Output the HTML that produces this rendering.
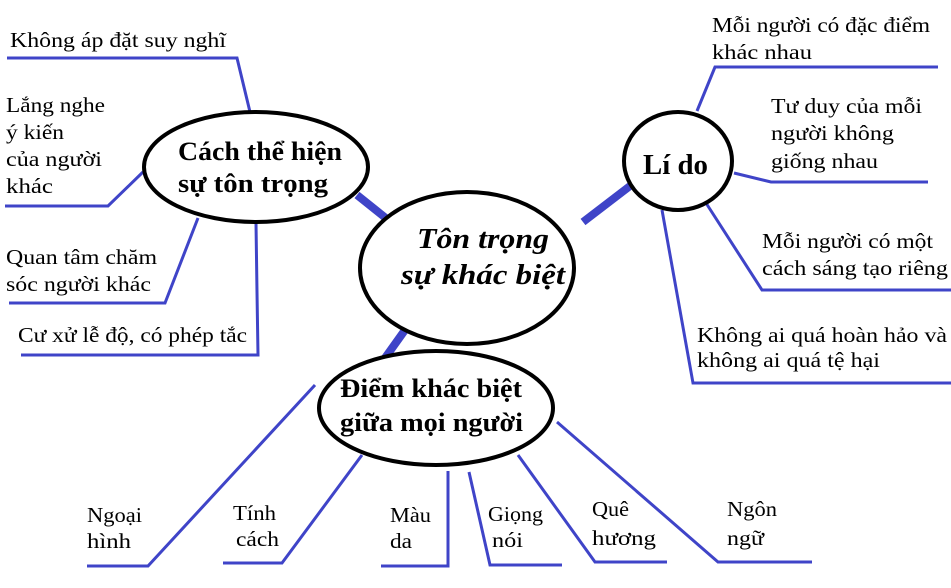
<!DOCTYPE html>
<html><head><meta charset="utf-8"><style>html,body{margin:0;padding:0;background:#fff}svg{display:block}</style></head>
<body>
<svg width="951" height="588" viewBox="0 0 951 588" xmlns="http://www.w3.org/2000/svg" font-family="'Liberation Serif', serif">
<g fill="none" stroke="#3f44c8" stroke-width="3">
<polyline points="7,58 237,58 250,112"/>
<polyline points="5,206 108,206 143,172"/>
<polyline points="9,303 165,303 198,218"/>
<polyline points="256,223 257,292 258,355 21,355"/>
<polyline points="697,111 715,67 938,67"/>
<polyline points="734,173 771,182 928,182"/>
<polyline points="706,203 762,290 951,290"/>
<polyline points="662,210 693,383 951,383"/>
<polyline points="315,385 148,566 87,566"/>
<polyline points="362,455 282,563 223,563"/>
<polyline points="448,471 448,566 381,566"/>
<polyline points="469,472 490,565 562,565"/>
<polyline points="518,455 595,562 667,562"/>
<polyline points="557,422 718,562 812,562"/>
</g>
<g stroke="#3f44c8" stroke-width="8">
<line x1="357" y1="195" x2="387" y2="219"/>
<line x1="405" y1="330" x2="385" y2="358"/>
<line x1="583" y1="222" x2="630" y2="186"/>
</g>
<g fill="#fff" stroke="#000" stroke-width="4">
<ellipse cx="256" cy="167" rx="112" ry="55"/>
<ellipse cx="467" cy="268" rx="107" ry="76"/>
<ellipse cx="678" cy="161" rx="54" ry="49"/>
<ellipse cx="436" cy="408" rx="117" ry="57"/>
</g>
<g font-weight="bold" font-size="26" fill="#000">
<text x="178" y="160" textLength="164" lengthAdjust="spacingAndGlyphs">Cách thể hiện</text>
<text x="178" y="192" textLength="150" lengthAdjust="spacingAndGlyphs">sự tôn trọng</text>
<text x="643" y="174" textLength="65" lengthAdjust="spacingAndGlyphs" font-size="28">Lí do</text>
<text x="340" y="397" textLength="182" lengthAdjust="spacingAndGlyphs">Điểm khác biệt</text>
<text x="340" y="431" textLength="183" lengthAdjust="spacingAndGlyphs">giữa mọi người</text>
<text x="417" y="248" textLength="132" lengthAdjust="spacingAndGlyphs" font-style="italic" font-size="28">Tôn trọng</text>
<text x="401" y="284" textLength="164" lengthAdjust="spacingAndGlyphs" font-style="italic" font-size="28">sự khác biệt</text>
</g>
<g font-size="21" fill="#000">
<text x="10" y="47" textLength="216" lengthAdjust="spacingAndGlyphs">Không áp đặt suy nghĩ</text>
<text x="6" y="112" textLength="99" lengthAdjust="spacingAndGlyphs">Lắng nghe</text>
<text x="6" y="139" textLength="58" lengthAdjust="spacingAndGlyphs">ý kiến</text>
<text x="6" y="166" textLength="96" lengthAdjust="spacingAndGlyphs">của người</text>
<text x="6" y="193" textLength="47" lengthAdjust="spacingAndGlyphs">khác</text>
<text x="6" y="264" textLength="151" lengthAdjust="spacingAndGlyphs">Quan tâm chăm</text>
<text x="6" y="291" textLength="145" lengthAdjust="spacingAndGlyphs">sóc người khác</text>
<text x="18" y="342" textLength="229" lengthAdjust="spacingAndGlyphs">Cư xử lễ độ, có phép tắc</text>
<text x="712" y="32" textLength="218" lengthAdjust="spacingAndGlyphs">Mỗi người có đặc điểm</text>
<text x="712" y="59" textLength="100" lengthAdjust="spacingAndGlyphs">khác nhau</text>
<text x="771" y="113" textLength="151" lengthAdjust="spacingAndGlyphs">Tư duy của mỗi</text>
<text x="771" y="140" textLength="123" lengthAdjust="spacingAndGlyphs">người không</text>
<text x="771" y="168" textLength="107" lengthAdjust="spacingAndGlyphs">giống nhau</text>
<text x="762" y="248" textLength="171" lengthAdjust="spacingAndGlyphs">Mỗi người có một</text>
<text x="762" y="275" textLength="186" lengthAdjust="spacingAndGlyphs">cách sáng tạo riêng</text>
<text x="697" y="342" textLength="250" lengthAdjust="spacingAndGlyphs">Không ai quá hoàn hảo và</text>
<text x="697" y="367" textLength="183" lengthAdjust="spacingAndGlyphs">không ai quá tệ hại</text>
<text x="87" y="522" textLength="55" lengthAdjust="spacingAndGlyphs">Ngoại</text>
<text x="87" y="548" textLength="44" lengthAdjust="spacingAndGlyphs">hình</text>
<text x="233" y="520" textLength="43" lengthAdjust="spacingAndGlyphs">Tính</text>
<text x="236" y="546" textLength="43" lengthAdjust="spacingAndGlyphs">cách</text>
<text x="390" y="522" textLength="41" lengthAdjust="spacingAndGlyphs">Màu</text>
<text x="390" y="548" textLength="22" lengthAdjust="spacingAndGlyphs">da</text>
<text x="488" y="521" textLength="55" lengthAdjust="spacingAndGlyphs">Giọng</text>
<text x="492" y="547" textLength="31" lengthAdjust="spacingAndGlyphs">nói</text>
<text x="592" y="516" textLength="37" lengthAdjust="spacingAndGlyphs">Quê</text>
<text x="592" y="545" textLength="64" lengthAdjust="spacingAndGlyphs">hương</text>
<text x="727" y="516" textLength="50" lengthAdjust="spacingAndGlyphs">Ngôn</text>
<text x="727" y="545" textLength="37" lengthAdjust="spacingAndGlyphs">ngữ</text>
</g>
</svg>
</body></html>
